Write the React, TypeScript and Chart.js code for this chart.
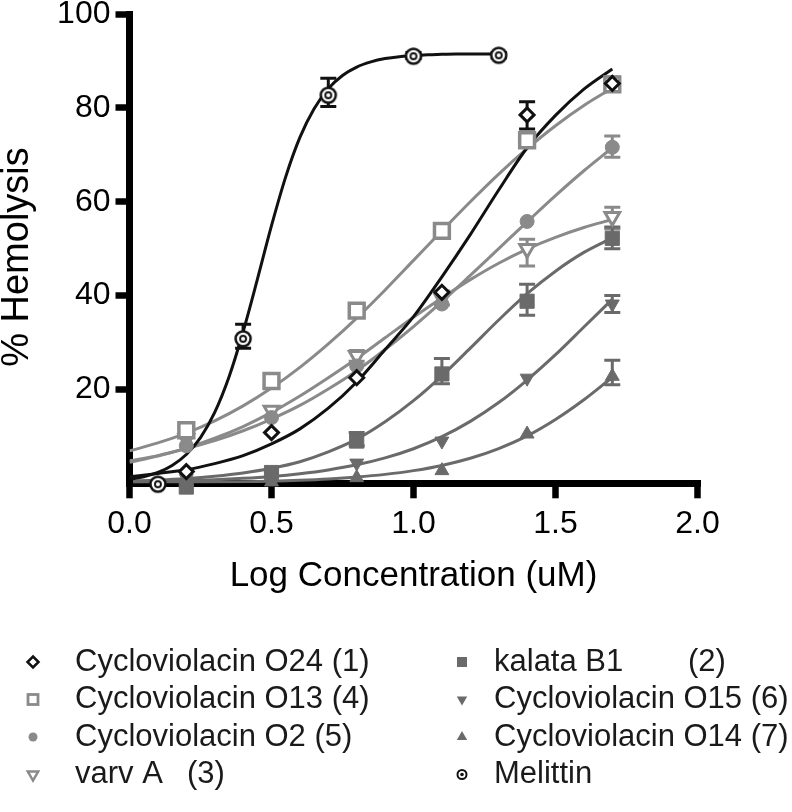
import React, { useEffect, useRef } from 'react';
import { Chart, registerables } from 'chart.js';

Chart.register(...registerables);

const FONT = '"Liberation Sans", Arial, Helvetica, sans-serif';

// ---------- data ----------
const doseX = [0.2, 0.5, 0.8, 1.1, 1.4, 1.7];
const melittinDoseX = [0.1, 0.4, 0.7, 1.0, 1.3];

const o24Y = [2.5, 10.8, 22.5, 40.7, 78.5, 85.2];
const kalataY = [-0.8, 2.3, 9.0, 23.3, 38.8, 52.2];
const o13Y = [11.3, 21.8, 36.8, 53.8, 73.1, 85.0];
const o15Y = [1.0, 1.5, 4.3, 9.0, 22.4, 38.2];
const o2Y = [8.0, 14.0, 25.0, 38.2, 55.8, 71.6];
const o14Y = [0.0, 0.3, 1.2, 2.7, 10.5, 22.8];
const varvAY = [9.5, 15.5, 27.2, 39.5, 50.0, 56.8];
const melittinY = [-0.2, 30.8, 82.7, 91.0, 91.2];

// error bars [low, high]
const o24Err = [null, null, null, null, [75.5, 81.3], [84.0, 86.5]];
const kalataErr = [null, null, [8.0, 10.8], [21.2, 26.6], [35.8, 42.4], [50.0, 54.6]];
const o13Err = [null, null, null, null, null, null];
const o15Err = [null, null, null, null, null, [36.4, 40.0]];
const o2Err = [null, null, null, null, null, [69.5, 74.0]];
const o14Err = [null, null, null, null, null, [21.0, 26.2]];
const varvAErr = [null, null, [26.0, 28.3], [38.0, 41.0], [46.3, 52.0], [54.2, 58.8]];
const melittinErr = [null, [28.8, 33.9], [80.3, 86.3], [90.5, 91.8], [90.6, 91.8]];

// fitted curves
const curveX = [0, 0.1, 0.2, 0.3, 0.4, 0.5, 0.6, 0.7, 0.8, 0.9, 1.0, 1.1, 1.2, 1.3, 1.4, 1.5, 1.6, 1.7];
const o24Curve = [1.4, 2.1, 2.9, 4.2, 5.9, 8.4, 11.6, 16.0, 21.6, 28.5, 35.5, 44.0, 53.0, 62.5, 71.5, 78.4, 84.0, 88.3];
const o13Curve = [6.9, 8.6, 10.7, 13.3, 16.5, 20.3, 24.7, 29.7, 35.2, 41.2, 47.5, 53.8, 60.0, 65.9, 71.3, 76.2, 80.5, 84.2];
const o2Curve = [4.8, 5.9, 7.4, 9.1, 11.2, 13.7, 16.6, 20.1, 24.0, 28.5, 33.4, 38.7, 44.3, 50.0, 55.7, 61.3, 66.6, 71.5];
const varvACurve = [4.5, 5.8, 7.5, 9.6, 12.1, 15.1, 18.6, 22.5, 26.6, 31.0, 35.4, 39.5, 43.4, 46.9, 49.9, 52.4, 54.5, 56.2];
const kalataCurve = [0.45, 0.67, 1.0, 1.5, 2.2, 3.2, 4.6, 6.7, 9.4, 13.1, 17.6, 22.9, 28.8, 34.8, 40.4, 45.2, 49.2, 52.3];
const o15Curve = [0.27, 0.38, 0.54, 0.76, 1.06, 1.47, 2.05, 2.85, 3.94, 5.41, 7.36, 9.93, 13.2, 17.2, 22.0, 27.4, 33.3, 39.2];
const o14Curve = [0.07, 0.11, 0.15, 0.22, 0.32, 0.45, 0.65, 0.93, 1.33, 1.9, 2.7, 3.81, 5.34, 7.41, 10.1, 13.6, 17.8, 22.6];
const melittinCurveX = [0, 0.05, 0.1, 0.15, 0.2, 0.25, 0.3, 0.35, 0.4, 0.45, 0.5, 0.55, 0.6, 0.65, 0.7, 0.75, 0.8, 0.85, 0.9, 0.95, 1.0, 1.05, 1.1, 1.15, 1.2, 1.25, 1.3];
const melittinCurve = [0.86, 1.41, 2.32, 3.8, 6.13, 9.74, 15.1, 22.6, 32.3, 43.4, 54.9, 65.3, 73.7, 79.8, 84.1, 86.9, 88.7, 89.8, 90.5, 90.9, 91.1, 91.3, 91.4, 91.5, 91.5, 91.5, 91.5];

// ticks / labels
const xTickValues = [0, 0.5, 1.0, 1.5, 2.0];
const yTickValues = [0, 20, 40, 60, 80, 100];
const xTitle = 'Log Concentration (uM)';
const yTitle = '% Hemolysis';

// ---------- styling ----------
const BLACK = '#111111';
const LIGHT = '#8a8a8a';
const DARK = '#6a6a6a';

const series = [
  { label: 'Cycloviolacin O24 (1)', x: doseX, y: o24Y, err: o24Err, cx: curveX, cy: o24Curve, color: BLACK, marker: 'diamondOpen', col: 0, row: 0, order: 10 },
  { label: 'Cycloviolacin O13 (4)', x: doseX, y: o13Y, err: o13Err, cx: curveX, cy: o13Curve, color: LIGHT, marker: 'squareOpen', col: 0, row: 1, order: 20 },
  { label: 'Cycloviolacin O2 (5)', x: doseX, y: o2Y, err: o2Err, cx: curveX, cy: o2Curve, color: LIGHT, marker: 'circle', col: 0, row: 2, order: 21 },
  { label: 'varv A', suffix: '(3)', suffixX: 187, x: doseX, y: varvAY, err: varvAErr, cx: curveX, cy: varvACurve, color: LIGHT, marker: 'triDownOpen', col: 0, row: 3, order: 22 },
  { label: 'kalata B1', suffix: '(2)', suffixX: 688, x: doseX, y: kalataY, err: kalataErr, cx: curveX, cy: kalataCurve, color: DARK, marker: 'square', col: 1, row: 0, order: 30 },
  { label: 'Cycloviolacin O15 (6)', x: doseX, y: o15Y, err: o15Err, cx: curveX, cy: o15Curve, color: DARK, marker: 'triDown', col: 1, row: 1, order: 31 },
  { label: 'Cycloviolacin O14 (7)', x: doseX, y: o14Y, err: o14Err, cx: curveX, cy: o14Curve, color: DARK, marker: 'triUp', col: 1, row: 2, order: 32 },
  { label: 'Melittin', x: melittinDoseX, y: melittinY, err: melittinErr, cx: melittinCurveX, cy: melittinCurve, color: BLACK, marker: 'bullseye', col: 1, row: 3, order: 11 },
];

const legendRowY = [662, 699.5, 737, 774.5];
const legendMarkerX = [33, 462];
const legendTextX = [75, 494];

function makeBullseye(color: string, r: number, lw: number, inner: number) {
  const size = Math.ceil(2 * r + lw + 4);
  const c = document.createElement('canvas');
  c.width = size;
  c.height = size;
  const g = c.getContext('2d')!;
  const m = size / 2;
  g.beginPath();
  g.arc(m, m, r, 0, Math.PI * 2);
  g.fillStyle = '#ffffff';
  g.fill();
  g.lineWidth = lw;
  g.strokeStyle = color;
  g.stroke();
  g.beginPath();
  g.arc(m, m, inner, 0, Math.PI * 2);
  g.lineWidth = lw * 0.75;
  g.stroke();
  return c;
}

function pointOpts(s: any, bullseye: HTMLCanvasElement) {
  switch (s.marker) {
    case 'diamondOpen':
      return { pointStyle: 'rectRot', pointRadius: 7, pointBorderWidth: 3, pointBackgroundColor: '#ffffff', pointBorderColor: s.color, pointRotation: 0 };
    case 'squareOpen':
      return { pointStyle: 'rect', pointRadius: 10.5, pointBorderWidth: 3.5, pointBackgroundColor: '#ffffff', pointBorderColor: s.color, pointRotation: 0 };
    case 'circle':
      return { pointStyle: 'circle', pointRadius: 7, pointBorderWidth: 1, pointBackgroundColor: s.color, pointBorderColor: s.color, pointRotation: 0 };
    case 'triDownOpen':
      return { pointStyle: 'triangle', pointRadius: 8.5, pointBorderWidth: 3, pointBackgroundColor: '#ffffff', pointBorderColor: s.color, pointRotation: 180 };
    case 'square':
      return { pointStyle: 'rect', pointRadius: 10, pointBorderWidth: 1, pointBackgroundColor: s.color, pointBorderColor: s.color, pointRotation: 0 };
    case 'triDown':
      return { pointStyle: 'triangle', pointRadius: 8, pointBorderWidth: 1, pointBackgroundColor: s.color, pointBorderColor: s.color, pointRotation: 180 };
    case 'triUp':
      return { pointStyle: 'triangle', pointRadius: 8, pointBorderWidth: 1, pointBackgroundColor: s.color, pointBorderColor: s.color, pointRotation: 0 };
    default:
      return { pointStyle: bullseye, pointRadius: 8, pointBorderWidth: 0, pointRotation: 0 };
  }
}

function drawLegendMarker(ctx: CanvasRenderingContext2D, kind: string, x: number, y: number, color: string) {
  ctx.save();
  ctx.strokeStyle = color;
  ctx.fillStyle = color;
  ctx.lineJoin = 'miter';
  switch (kind) {
    case 'diamondOpen': {
      const h = 5.5;
      ctx.beginPath();
      ctx.moveTo(x, y - h);
      ctx.lineTo(x + h, y);
      ctx.lineTo(x, y + h);
      ctx.lineTo(x - h, y);
      ctx.closePath();
      ctx.fillStyle = '#fff';
      ctx.fill();
      ctx.lineWidth = 2.5;
      ctx.stroke();
      break;
    }
    case 'squareOpen': {
      const h = 5;
      ctx.fillStyle = '#fff';
      ctx.fillRect(x - h, y - h, 2 * h, 2 * h);
      ctx.lineWidth = 2.8;
      ctx.strokeRect(x - h, y - h, 2 * h, 2 * h);
      break;
    }
    case 'circle': {
      ctx.beginPath();
      ctx.arc(x, y, 4.5, 0, Math.PI * 2);
      ctx.fill();
      break;
    }
    case 'triDownOpen': {
      const r = 6;
      ctx.beginPath();
      ctx.moveTo(x - r * 0.866, y - r * 0.5);
      ctx.lineTo(x + r * 0.866, y - r * 0.5);
      ctx.lineTo(x, y + r);
      ctx.closePath();
      ctx.fillStyle = '#fff';
      ctx.fill();
      ctx.lineWidth = 2.5;
      ctx.stroke();
      break;
    }
    case 'square': {
      const h = 5;
      ctx.fillRect(x - h, y - h, 2 * h, 2 * h);
      break;
    }
    case 'triDown': {
      const r = 6;
      ctx.beginPath();
      ctx.moveTo(x - r * 0.866, y - r * 0.5);
      ctx.lineTo(x + r * 0.866, y - r * 0.5);
      ctx.lineTo(x, y + r);
      ctx.closePath();
      ctx.fill();
      break;
    }
    case 'triUp': {
      const r = 6;
      ctx.beginPath();
      ctx.moveTo(x - r * 0.866, y + r * 0.5);
      ctx.lineTo(x + r * 0.866, y + r * 0.5);
      ctx.lineTo(x, y - r);
      ctx.closePath();
      ctx.fill();
      break;
    }
    default: {
      ctx.beginPath();
      ctx.arc(x, y, 4.5, 0, Math.PI * 2);
      ctx.fillStyle = '#fff';
      ctx.fill();
      ctx.lineWidth = 2;
      ctx.stroke();
      ctx.beginPath();
      ctx.arc(x, y, 1.8, 0, Math.PI * 2);
      ctx.fillStyle = color;
      ctx.fill();
    }
  }
  ctx.restore();
}

const errorBarPlugin = {
  id: 'errorBars',
  beforeDatasetsDraw(chart: any) {
    const ctx = chart.ctx;
    const xs = chart.scales.x;
    const ys = chart.scales.y;
    ctx.save();
    ctx.lineWidth = 3;
    ctx.lineCap = 'butt';
    series.forEach((s) => {
      ctx.strokeStyle = s.color;
      s.err.forEach((e: any, i: number) => {
        if (!e) return;
        const px = xs.getPixelForValue(s.x[i]);
        const lo = ys.getPixelForValue(e[0]);
        const hi = ys.getPixelForValue(e[1]);
        ctx.beginPath();
        ctx.moveTo(px, lo);
        ctx.lineTo(px, hi);
        ctx.moveTo(px - 8, lo);
        ctx.lineTo(px + 8, lo);
        ctx.moveTo(px - 8, hi);
        ctx.lineTo(px + 8, hi);
        ctx.stroke();
      });
    });
    ctx.restore();
  },
};

const legendPlugin = {
  id: 'customLegend',
  afterDraw(chart: any) {
    const ctx = chart.ctx;
    const a = chart.chartArea;
    ctx.save();
    // square off axis corners
    ctx.fillStyle = '#000';
    ctx.fillRect(a.left - 3.5, a.bottom - 3.5, 7, 7);

    // y-axis title
    ctx.save();
    ctx.translate(18, 257);
    ctx.rotate(-Math.PI / 2);
    ctx.font = `38px ${FONT}`;
    ctx.textAlign = 'center';
    ctx.textBaseline = 'middle';
    ctx.fillStyle = '#000';
    ctx.fillText(yTitle, 0, 0);
    ctx.restore();

    ctx.font = `31px ${FONT}`;
    ctx.textBaseline = 'middle';
    ctx.textAlign = 'left';
    series.forEach((s: any) => {
      const y = legendRowY[s.row];
      drawLegendMarker(ctx, s.marker, legendMarkerX[s.col], y, s.color);
      ctx.fillStyle = '#1a1a1a';
      ctx.fillText(s.label, legendTextX[s.col], y);
      if (s.suffix) ctx.fillText(s.suffix, s.suffixX, y);
    });
    ctx.restore();
  },
};

export default function App() {
  const canvasRef = useRef<HTMLCanvasElement | null>(null);

  useEffect(() => {
    if (!canvasRef.current) return;
    Chart.defaults.font.family = FONT;
    const bullseye = makeBullseye(BLACK, 7.5, 2.5, 3);

    const datasets: any[] = [];
    series.forEach((s) => {
      datasets.push({
        type: 'line',
        label: s.label + ' fit',
        data: s.cx.map((x: number, i: number) => ({ x, y: s.cy[i] })),
        borderColor: s.color,
        borderWidth: 3,
        pointRadius: 0,
        pointHoverRadius: 0,
        fill: false,
        cubicInterpolationMode: 'monotone',
        order: s.order,
      });
    });
    series.forEach((s) => {
      datasets.push({
        type: 'scatter',
        label: s.label,
        data: s.x.map((x: number, i: number) => ({ x, y: s.y[i] })),
        showLine: false,
        clip: false,
        order: s.order / 10,
        ...pointOpts(s, bullseye),
      });
    });

    const chart = new Chart(canvasRef.current, {
      type: 'scatter',
      data: { datasets },
      plugins: [errorBarPlugin, legendPlugin],
      options: {
        responsive: false,
        devicePixelRatio: 1,
        animation: false,
        events: [],
        layout: { padding: { top: 11.7, right: 94.5, bottom: 218.2, left: 0 } },
        plugins: {
          legend: { display: false },
          tooltip: { enabled: false },
        },
        scales: {
          x: {
            type: 'linear',
            position: 'bottom',
            min: 0,
            max: 2,
            z: 1,
            border: { display: true, color: '#000', width: 7 },
            grid: { drawOnChartArea: false, drawTicks: true, tickLength: 15, tickWidth: 6.5, lineWidth: 7, tickColor: '#000', color: '#000' },
            afterBuildTicks: (scale: any) => {
              scale.ticks = xTickValues.map((v) => ({ value: v }));
            },
            ticks: {
              color: '#000',
              padding: 7,
              maxRotation: 0,
              autoSkip: false,
              font: { family: FONT, size: 32, lineHeight: 1.2 },
              callback: (v: any) => Number(v).toFixed(1),
            },
            title: { display: true, text: xTitle, color: '#000', padding: 0, font: { family: FONT, size: 35, lineHeight: 1 } },
            afterFit: (scale: any) => {
              scale.height = 110.5;
              scale.paddingLeft = 0;
              scale.paddingRight = 0;
            },
          },
          y: {
            type: 'linear',
            position: 'left',
            min: 0,
            max: 100,
            z: 1,
            border: { display: true, color: '#000', width: 7 },
            grid: {
              drawOnChartArea: false,
              drawTicks: true,
              tickLength: 14,
              tickWidth: 6.5,
              lineWidth: 7,
              tickColor: (c: any) => (c.tick && c.tick.value === 0 ? 'rgba(0,0,0,0)' : '#000'),
              color: '#000',
            },
            afterBuildTicks: (scale: any) => {
              scale.ticks = yTickValues.map((v) => ({ value: v }));
            },
            ticks: {
              color: '#000',
              padding: 5,
              font: { family: FONT, size: 32, lineHeight: 1.2 },
              callback: (v: any) => (v === 0 ? '' : String(v)),
            },
            title: { display: false, text: yTitle },
            afterFit: (scale: any) => {
              scale.width = 129.5;
              scale.paddingTop = 0;
              scale.paddingBottom = 0;
            },
          },
        },
      },
    } as any);

    return () => chart.destroy();
  }, []);

  return (
    <div style={{ position: 'absolute', left: 0, top: 0, width: 792, height: 812, background: '#ffffff' }}>
      <canvas ref={canvasRef} width={792} height={812} style={{ display: 'block', width: '792px', height: '812px' }} />
    </div>
  );
}
